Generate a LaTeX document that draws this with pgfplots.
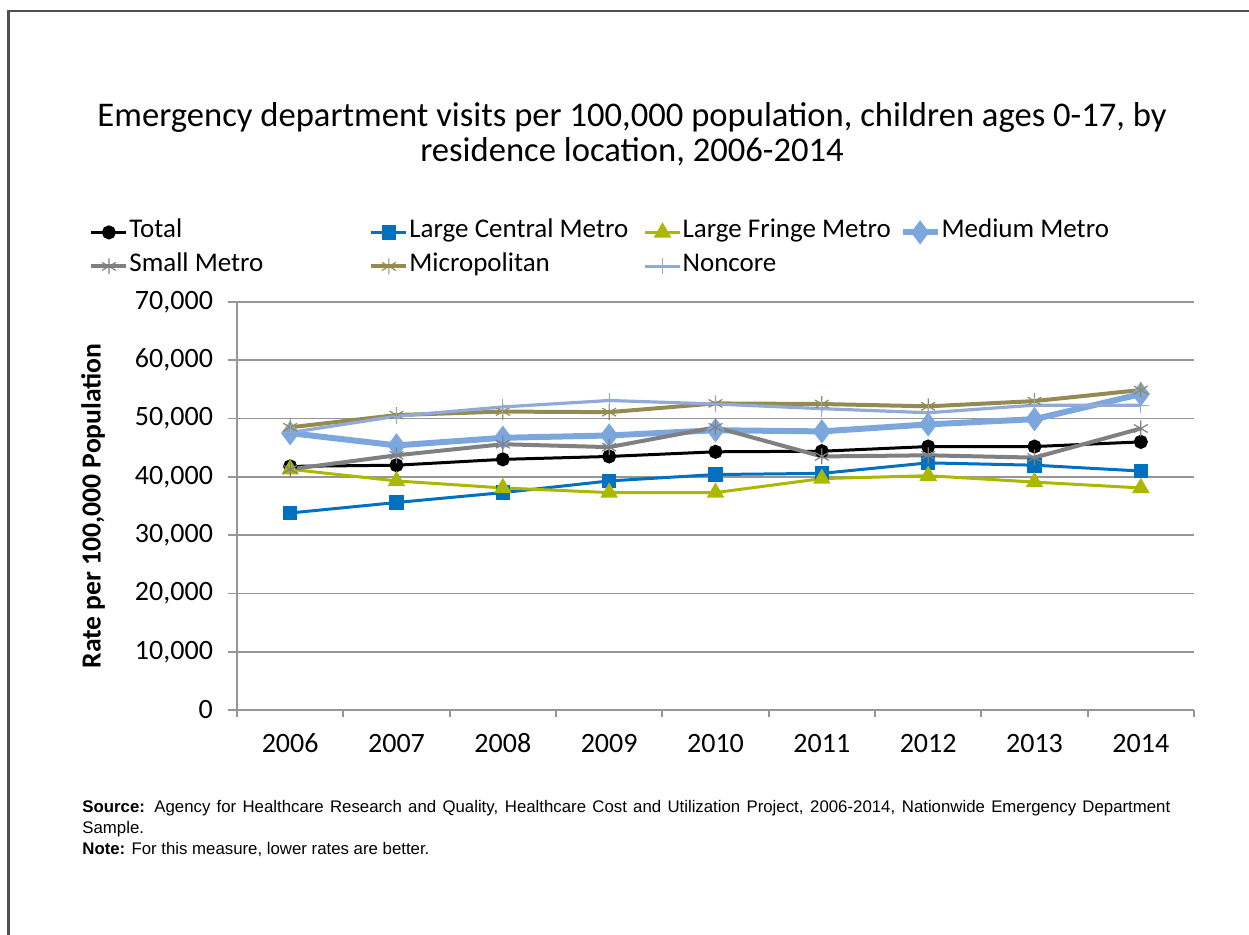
\documentclass[border=0pt]{standalone}
\usepackage{fontspec}
\setmainfont{Carlito}
\newfontfamily\notefont{Liberation Sans}
\usepackage{pgfplots}
\usepackage{pgfplotstable}
\pgfplotsset{compat=1.18}

\definecolor{cTotal}{RGB}{0,0,0}
\definecolor{cLCM}{RGB}{0,112,192}
\definecolor{cLFM}{RGB}{170,185,0}
\definecolor{cMed}{RGB}{124,167,222}
\definecolor{cSmall}{RGB}{128,128,128}
\definecolor{cMicro}{RGB}{148,138,84}
\definecolor{cNon}{RGB}{145,170,215}
\definecolor{cGrid}{RGB}{150,150,150}
\definecolor{cFrame}{RGB}{80,80,80}

% ED visits per 100,000 children, 2006 (0) to 2014 (8)
\pgfplotstableread{
yr total lcm   lfm   med   small micro non
0  41800 33800 41300 47500 41300 48500 47600
1  42000 35600 39300 45400 43700 50600 50400
2  43000 37300 38100 46700 45600 51200 52000
3  43500 39300 37300 47100 45100 51100 53100
4  44300 40400 37300 48000 48500 52600 52500
5  44400 40600 39700 47800 43500 52500 51700
6  45200 42400 40200 49000 43700 52100 51000
7  45200 42000 39100 49900 43300 53000 52300
8  46000 41000 38100 54200 48300 54900 52300
}\rates

\newcommand{\lfont}{\fontsize{13.5}{16}\selectfont}

\begin{document}
\begin{tikzpicture}
\useasboundingbox (0,0) rectangle (624.5pt,467pt);
% chart area frame
\draw[cFrame, line width=1.2pt] (4.3pt,-10pt) -- (4.3pt,461.5pt) -- (640pt,461.5pt);

% title
\node[font=\fontsize{17.3}{20}\selectfont, anchor=base, inner sep=0pt] at (316pt,403.5pt)
  {Emergency department visits per 100,000 population, children ages 0-17, by};
\node[font=\fontsize{17.3}{20}\selectfont, anchor=base, inner sep=0pt] at (316pt,386pt)
  {residence location, 2006-2014};

\begin{axis}[
  at={(118.5pt,112pt)}, anchor=south west,
  scale only axis, width=478.5pt, height=204pt,
  xmin=-0.5, xmax=8.5, ymin=0, ymax=70000,
  xtick={0,...,8},
  xticklabels={2006,2007,2008,2009,2010,2011,2012,2013,2014},
  minor xtick={-0.5,0.5,...,8.5},
  ytick={0,10000,...,70000},
  scaled y ticks=false,
  /pgf/number format/.cd, fixed, 1000 sep={,}, assume math mode=true, /pgfplots/.cd,
  ymajorgrids,
  major grid style={cGrid, line width=0.9pt},
  axis lines=left,
  axis line style={-, cGrid, line width=0.9pt},
  tick align=outside,
  major tick length=4.5pt, minor tick length=3.5pt,
  every tick/.style={cGrid, line width=0.9pt},
  major x tick style={draw=none},
  tick label style={font=\fontsize{14}{16}\selectfont},
  yticklabel style={xshift=-4pt},
  xticklabel style={text height=9.5pt, text depth=0pt, yshift=-3.5pt},
  ylabel={Rate per 100,000 Population},
  every axis y label/.style={at={(axis description cs:-0.1505,0.5)}, rotate=90,
    anchor=center, font=\bfseries\fontsize{13.8}{16}\selectfont},
  legend columns=4,
  legend cell align=left,
  legend style={at={(axis description cs:-0.15465,1.2132)}, anchor=north west,
    draw=none, fill=none, inner sep=0pt, font=\lfont,
    /tikz/every even column/.append style={column sep=0pt},
    nodes={inner xsep=0.5pt, inner ysep=0pt, text height=11pt, text depth=6pt}},
  legend image code/.code={\draw[mark repeat=2,mark phase=2,#1]
    plot coordinates {(0pt,0pt) (8.75pt,0pt) (17.5pt,0pt)};},
]
\addplot[cTotal, line width=1.5pt, mark=*, mark size=2.75pt] table[x=yr, y=total] {\rates};
\addplot[cLCM, line width=1.5pt, mark=square*, mark size=2.9pt] table[x=yr, y=lcm] {\rates};
\addplot[cLFM, line width=1.5pt, mark=triangle*, mark size=3.6pt] table[x=yr, y=lfm] {\rates};
\addplot[cMed, line width=3pt, mark=diamond*, mark size=3.6pt] table[x=yr, y=med] {\rates};
\addplot[cSmall, line width=2pt, mark=asterisk, mark size=4pt, mark options={line width=0.6pt}] table[x=yr, y=small] {\rates};
\addplot[cMicro, line width=2pt, mark=asterisk, mark size=4pt, mark options={line width=0.6pt}] table[x=yr, y=micro] {\rates};
\addplot[cNon, line width=1.6pt, mark=+, mark size=4pt, mark options={line width=0.6pt}] table[x=yr, y=non] {\rates};
\legend{\makebox[119.5pt][l]{Total}, \makebox[116.5pt][l]{Large Central Metro},
  \makebox[108pt][l]{Large Fringe Metro}, Medium Metro,
  Small Metro, Micropolitan, Noncore}
\end{axis}

% source and note
\begin{scope}[every node/.style={anchor=base west, inner sep=0pt,
    font=\notefont\fontsize{8.4}{10}\selectfont}]
\node at (41pt,61pt) {\makebox[544pt][s]{\textbf{Source:} Agency for Healthcare Research and Quality, Healthcare Cost and Utilization Project, 2006-2014, Nationwide Emergency Department}};
\node at (41pt,50.5pt) {Sample.};
\node at (41pt,40pt) {\textbf{Note:} For this measure, lower rates are better.};
\end{scope}
\end{tikzpicture}
\end{document}
